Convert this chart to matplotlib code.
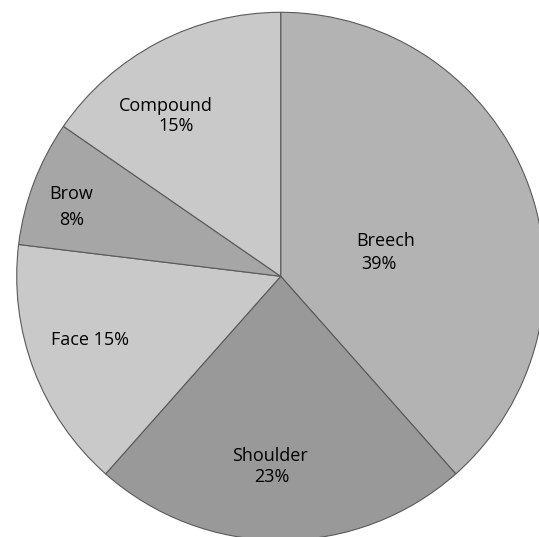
import matplotlib
matplotlib.use("Agg")
import matplotlib.pyplot as plt

# Data
categories = ["Breech", "Shoulder", "Face", "Brow", "Compound"]
values = [38.5, 23.1, 15.4, 7.7, 15.4]
colors = ["#b3b3b3", "#999999", "#c9c9c9", "#a6a6a6", "#c9c9c9"]

plt.rcParams['font.family'] = ['Open Sans', 'DejaVu Sans']

W, H, DPI = 539, 537, 100
fig = plt.figure(figsize=(W / DPI, H / DPI), dpi=DPI)
ax = fig.add_axes([0, 0, 1, 1])

wedges, _ = ax.pie(values, colors=colors, startangle=90, counterclock=False,
                   radius=1.0, center=(0, 0),
                   wedgeprops=dict(edgecolor="#5a5a5a", linewidth=0.8))

# map: center at pixel (280.7, 276.3), radius 264 px
cx, cy, r = 280.7, 276.3, 264.0
ax.set_xlim(-cx / r, (W - cx) / r)
ax.set_ylim(-(H - cy) / r, cy / r)
ax.set_aspect('equal', adjustable='datalim')
ax.axis('off')

def pct(v):
    return f"{int(v + 0.5)}%"

# label anchors (name, percent) in data coordinates, baseline-aligned
name_pos = {
    "Breech": (0.397, 0.115),
    "Shoulder": (-0.0405, -0.698),
    "Brow": (-0.793, 0.293),
    "Compound": (-0.436, 0.627),
}
pct_pos = {
    "Breech": (0.373, 0.027),
    "Shoulder": (-0.033, -0.779),
    "Brow": (-0.793, 0.194),
    "Compound": (-0.398, 0.5515),
}
single_pos = {"Face": (-0.723, -0.260)}

fs = 13
for cat, v in zip(categories, values):
    if cat in single_pos:
        x, y = single_pos[cat]
        ax.text(x, y, f"{cat} {pct(v)}", ha='center', va='baseline',
                fontsize=fs, color='black')
    else:
        x, y = name_pos[cat]
        ax.text(x, y, cat, ha='center', va='baseline', fontsize=fs, color='black')
        x, y = pct_pos[cat]
        ax.text(x, y, pct(v), ha='center', va='baseline', fontsize=fs, color='black')

fig.savefig("out.png", dpi=DPI, facecolor="white")
